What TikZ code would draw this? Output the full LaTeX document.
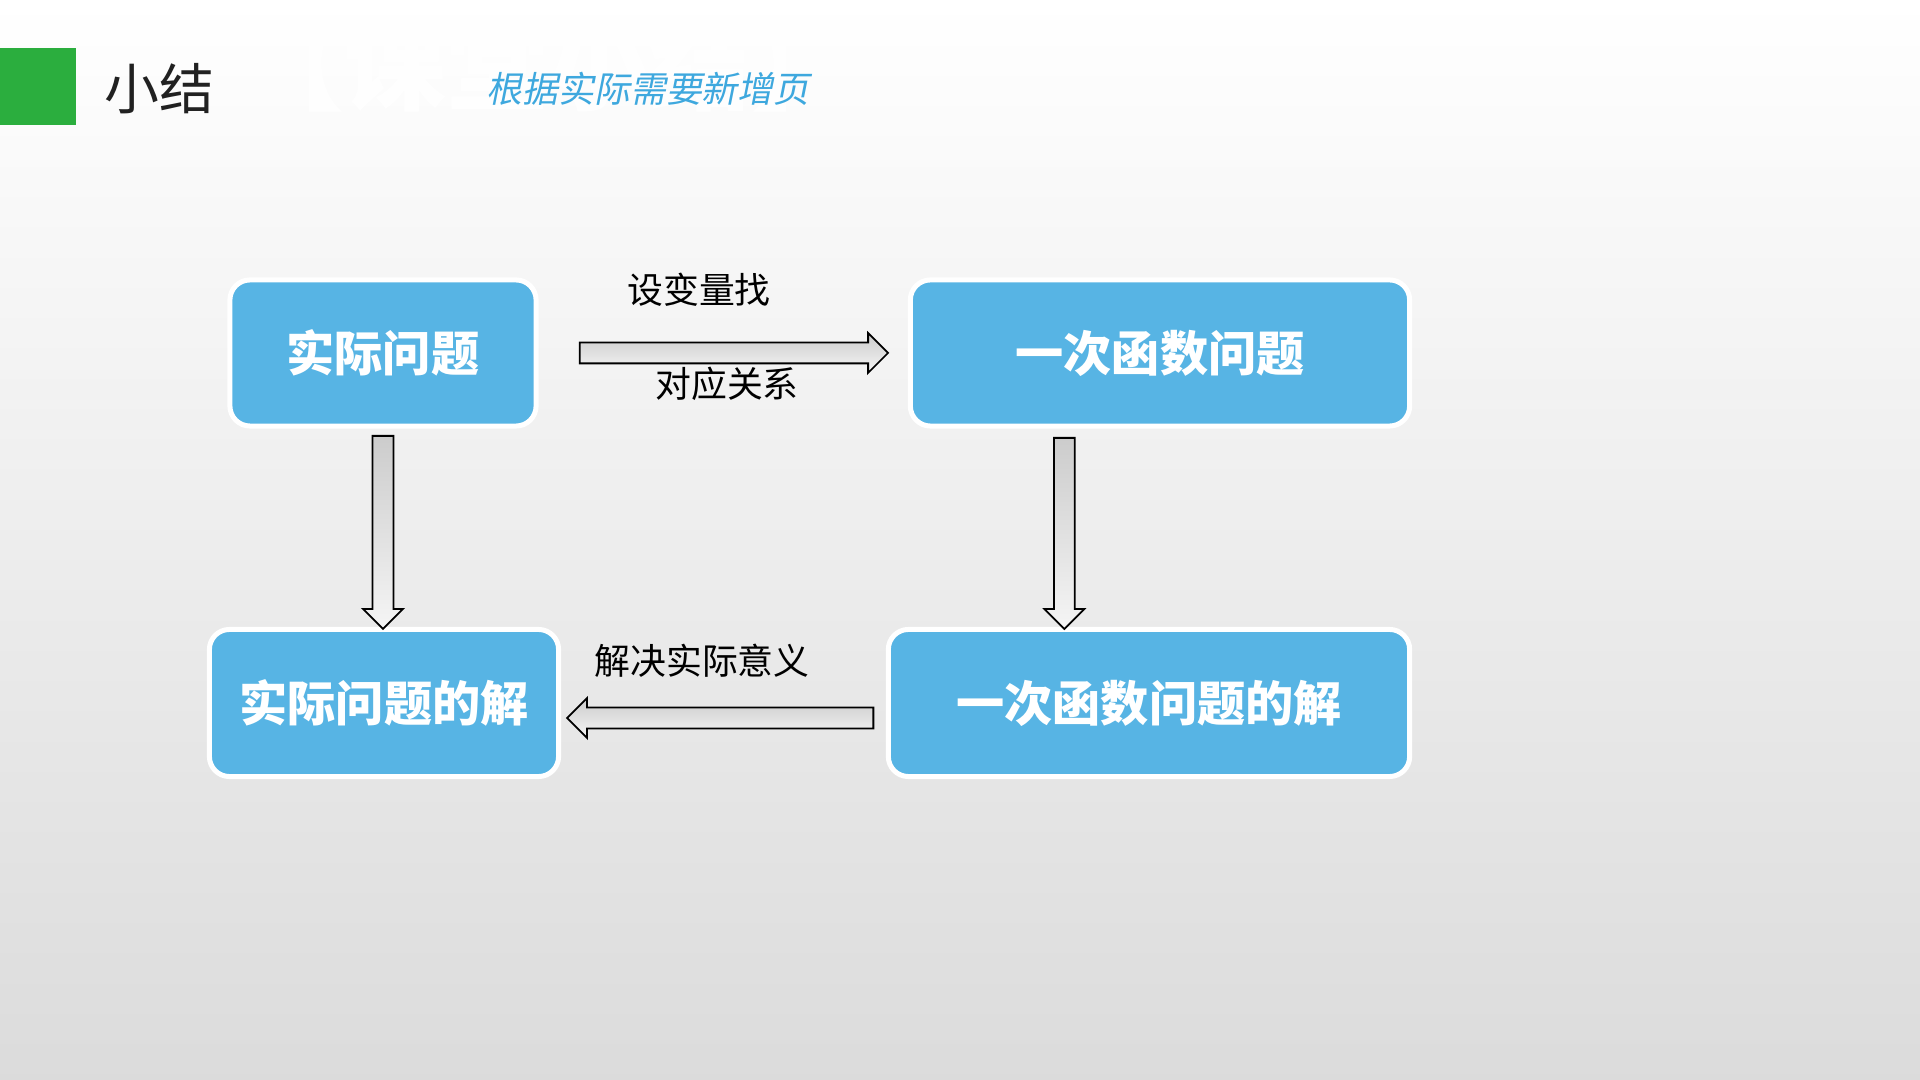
\documentclass[tikz,border=0pt]{standalone}
\usepackage{fontspec}
\newfontfamily\cjk{Noto Sans CJK SC}
\newfontfamily\cjkslant[FakeSlant=0.2]{Noto Sans CJK SC}
\usetikzlibrary{positioning,shapes.arrows,calc}
\definecolor{boxblue}{RGB}{87,180,228}
\definecolor{headgreen}{RGB}{43,174,62}
\definecolor{noteblue}{RGB}{62,168,222}

\begin{document}
\begin{tikzpicture}[x=0.01cm, y=-0.01cm,
  box/.style={rectangle, rounded corners=0.2cm, fill=boxblue, draw=white, line width=0.05cm,
    text=white, font=\cjk\bfseries\fontsize{13.7}{16}\selectfont, inner sep=0pt},
  lbl/.style={font=\cjk\fontsize{10.2}{12}\selectfont, inner sep=0pt, text=black},
  barrow/.style={single arrow, draw=black, line width=0.5pt, top color=gray!40, bottom color=gray!8,
    inner sep=0.095cm, single arrow head extend=0.095cm, single arrow head indent=0pt}
]

\shade[top color=white, bottom color=black!14] (0,0) rectangle (1920,1080);
\useasboundingbox (0,0) rectangle (1920,1080);

% header
\fill[headgreen] (0,48) rectangle (76,125);
\node[anchor=west, inner sep=0pt, text=black!87, font=\cjk\fontsize{15.6}{18}\selectfont] (title) at (104,89) {小结};
\node[text=white, opacity=0.9, font=\cjk\bfseries\fontsize{29}{34}\selectfont] (banner) at (548,64) {【课堂小结】};
\node[anchor=west, inner sep=0pt, text=noteblue, font=\cjkslant\fontsize{10.2}{12}\selectfont] (note) at (486,89) {根据实际需要新增页};

% boxes
\node[box, minimum width=3.06cm, minimum height=1.46cm] (p1) at (383,353) {实际问题};
\node[box, minimum width=4.99cm, minimum height=1.46cm] (p2) at (1160,353) {一次函数问题};
\node[box, minimum width=3.49cm, minimum height=1.47cm] (p3) at (384,703) {实际问题的解};
\node[box, minimum width=5.21cm, minimum height=1.47cm] (p4) at (1149,703) {一次函数问题的解};

% arrows
\coordinate (r1) at ([xshift=0.37cm]p1.east);
\coordinate (r2) at ([xshift=-0.26cm]p2.west);
\path (r1) -- (r2) node[barrow, midway, minimum height=3.08cm] (a12) {};
\coordinate (d1) at ([yshift=-0.05cm]p1.south);
\coordinate (d2) at ($(d1 |- p3.north)+(0,-6)$);
\path (d1) -- (d2) node[barrow, midway, shape border rotate=270, minimum height=1.93cm] (a13) {};
\coordinate (e1) at ([xshift=-0.955cm, yshift=-0.07cm]p2.south);
\coordinate (e2) at ($(e1 |- p4.north)+(0,-6)$);
\path (e1) -- (e2) node[barrow, midway, shape border rotate=270, minimum height=1.91cm] (a24) {};
\coordinate (l1) at ([xshift=-0.16cm, yshift=-0.15cm]p4.west);
\coordinate (l2) at ([xshift=0.2cm]p3.east |- l1);
\path (l1) -- (l2) node[barrow, midway, shape border rotate=180, minimum height=3.06cm] (a43) {};

% labels
\node[lbl] (t1) at (699,290) {设变量找};
\node[lbl] (t2) at (727,384) {对应关系};
\node[lbl] (t3) at (702,661) {解决实际意义};

\end{tikzpicture}
\end{document}
